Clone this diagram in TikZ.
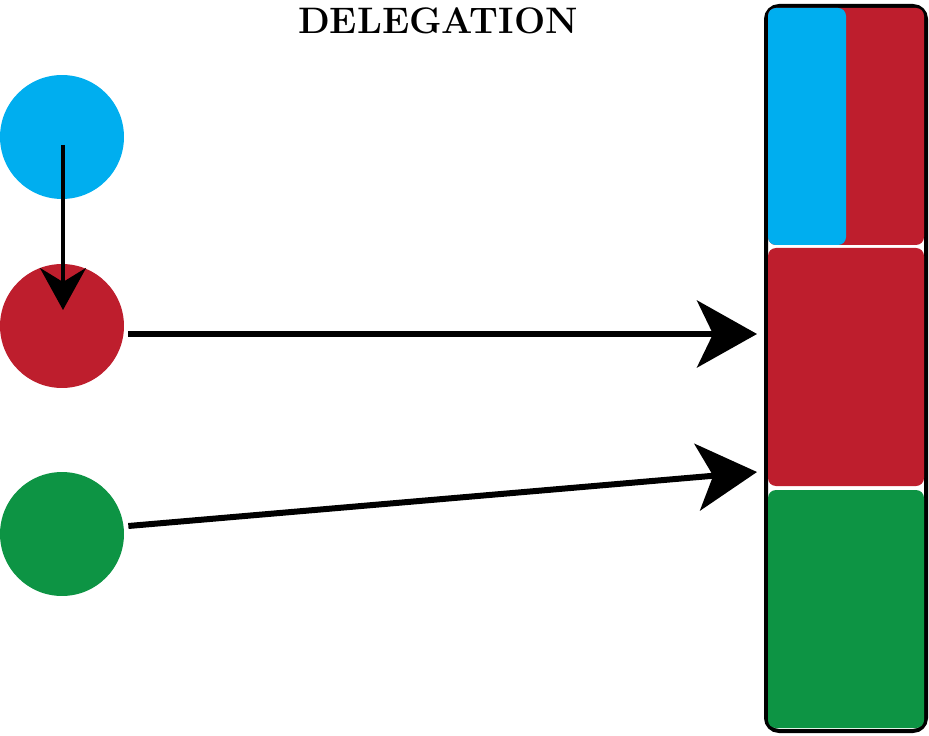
\documentclass[tikz,border=0pt]{standalone}
\usepackage{tikz}
\usetikzlibrary{arrows.meta, calc}
\definecolor{delblue}{HTML}{00AEEF}
\definecolor{delred}{HTML}{BE1E2D}
\definecolor{delgreen}{HTML}{0D9444}
\tikzset{
    agent/.style={circle, inner sep=0pt, minimum size=2.48cm},
    slot/.style={rounded corners=0.16cm},
    bigarrow/.style={line width=0.12cm, -{Stealth[length=1.2cm, width=1.34cm, inset=0.32cm]}},
    smallarrow/.style={line width=0.08cm, -{Stealth[length=0.84cm, width=0.92cm, inset=0.28cm]}}
}

\begin{document}
\begin{tikzpicture}[x=0.02cm, y=-0.02cm]
            \useasboundingbox (0,0) rectangle (929,736);

            \node[agent, fill=delblue]  (Blue)  at (62,137) {};
            \node[agent, fill=delred]   (Red)   at (62,326) {};
            \node[agent, fill=delgreen] (Green) at (62,534) {};

            \node[font=\bfseries\fontsize{21}{25}\selectfont] (Title) at (438,21) {DELEGATION};

            % the object stack
            \draw[black, line width=0.08cm, rounded corners=0.26cm] (766,6) rectangle (926,731);
            \fill[delred,  slot] (768,8)   rectangle (924,245);
            \fill[delblue, slot] (768,8)   rectangle (846,245);
            \fill[delred,  slot] (768,248) rectangle (924,486);
            \fill[delgreen,slot] (768,490) rectangle (924,728);

            \coordinate (RedSlot)   at (757,334);
            \coordinate (GreenSlot) at (757,472);

            \draw[smallarrow] ($(Blue.center)+(1,8)$) -- ($(Red.center)+(1,-16)$);
            \draw[bigarrow] ($(Red.east)+(4,8)$) -- (RedSlot);
            \draw[bigarrow] ($(Green.east)+(4,-8)$) -- (GreenSlot);
        \end{tikzpicture}
\end{document}
